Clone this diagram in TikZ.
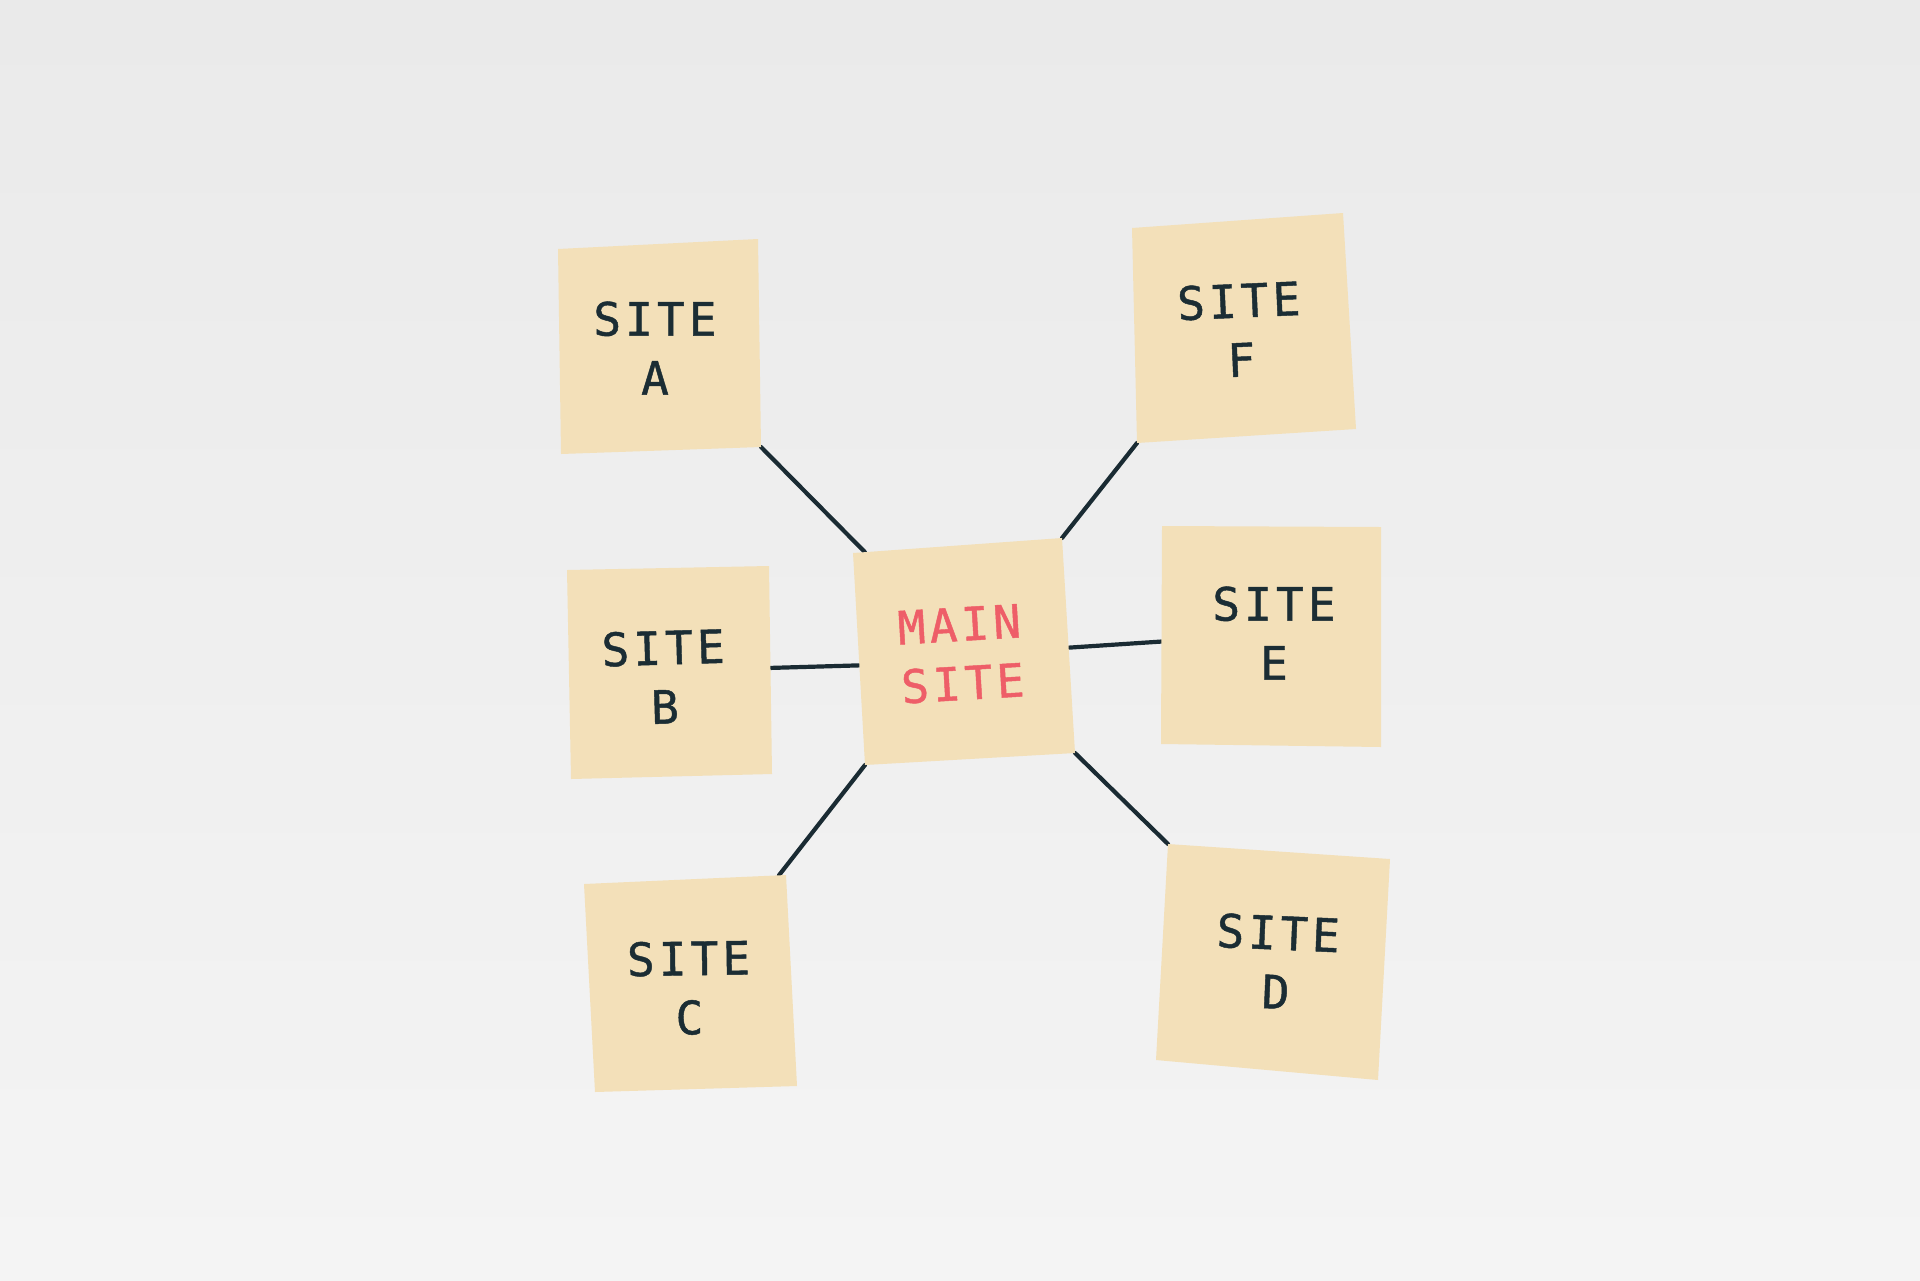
\documentclass[tikz,border=0pt]{standalone}
\usepackage{fontspec}
\newfontfamily\notefont[LetterSpace=9,FakeBold=1]{DejaVu Sans Mono}
\usetikzlibrary{calc}
\definecolor{bgtop}{RGB}{234,234,234}
\definecolor{bgbot}{RGB}{244,244,244}
\definecolor{notefill}{RGB}{243,224,185}
\definecolor{inkdark}{RGB}{27,45,52}
\definecolor{inkred}{RGB}{238,94,104}
\definecolor{linkcol}{RGB}{26,43,51}
\tikzset{
  paper/.style={fill=notefill},
  notetext/.style={inner sep=0pt, align=center, text=inkdark,
    font=\notefont\fontsize{23}{29.5}\selectfont},
  maintext/.style={notetext, text=inkred},
  link/.style={draw=linkcol, line width=2.1pt, line cap=round}
}
\begin{document}
\begin{tikzpicture}[x=0.5pt,y=-0.5pt]
\shade[top color=bgtop, bottom color=bgbot] (0,0) rectangle (1920,1280);
\useasboundingbox (0,0) rectangle (1920,1280);

% corners of the notes
\coordinate (aTL) at (558,249); \coordinate (aTR) at (758,239);
\coordinate (aBR) at (761,447); \coordinate (aBL) at (561,454);
\coordinate (fTL) at (1132,228); \coordinate (fTR) at (1343,213);
\coordinate (fBR) at (1356,429); \coordinate (fBL) at (1137,443);
\coordinate (bTL) at (567,570); \coordinate (bTR) at (769,566);
\coordinate (bBR) at (772,774); \coordinate (bBL) at (571,779);
\coordinate (mTL) at (853,553); \coordinate (mTR) at (1062,538);
\coordinate (mBR) at (1075,753); \coordinate (mBL) at (865,765);
\coordinate (eTL) at (1162,526); \coordinate (eTR) at (1381,527);
\coordinate (eBR) at (1381,747); \coordinate (eBL) at (1161,744);
\coordinate (cTL) at (584,884); \coordinate (cTR) at (786,875);
\coordinate (cBR) at (797,1086); \coordinate (cBL) at (595,1092);
\coordinate (dTL) at (1168,844); \coordinate (dTR) at (1390,859);
\coordinate (dBR) at (1378,1080); \coordinate (dBL) at (1156,1060);

% connector ends on the note edges
\coordinate (mA) at ($(mTL)!0.057!(mTR)$);
\coordinate (bE) at ($(bTR)!0.49!(bBR)$);
\coordinate (mW) at ($(mTL)!0.53!(mBL)$);
\coordinate (eW) at ($(eTL)!0.53!(eBL)$);
\coordinate (mE) at ($(mTR)!0.51!(mBR)$);
\coordinate (cC) at ($(cTR)!0.035!(cTL)$);

\draw[link] (aBR) -- (mA);
\draw[link] (fBL) -- (mTR);
\draw[link] (bE) -- (mW);
\draw[link] (eW) -- (mE);
\draw[link] (cC) -- (mBL);
\draw[link] (dTL) -- (mBR);

\foreach \n in {a,f,b,m,e,c,d}{
  \fill[paper] (\n TL) -- (\n TR) -- (\n BR) -- (\n BL) -- cycle;
}

\node[notetext] (a) at (655,348) {SITE\\A};
\node[notetext, rotate=2.5] (f) at (1240,330) {SITE\\F};
\node[notetext, rotate=1.7] (b) at (664,677) {SITE\\B};
\node[maintext, rotate=3.4] (m) at (961,654) {MAIN\\SITE};
\node[notetext] (e) at (1274,633) {SITE\\E};
\node[notetext, rotate=0.8] (c) at (689,988) {SITE\\C};
\node[notetext, rotate=-2.5] (d) at (1277,962) {SITE\\D};
\end{tikzpicture}
\end{document}
